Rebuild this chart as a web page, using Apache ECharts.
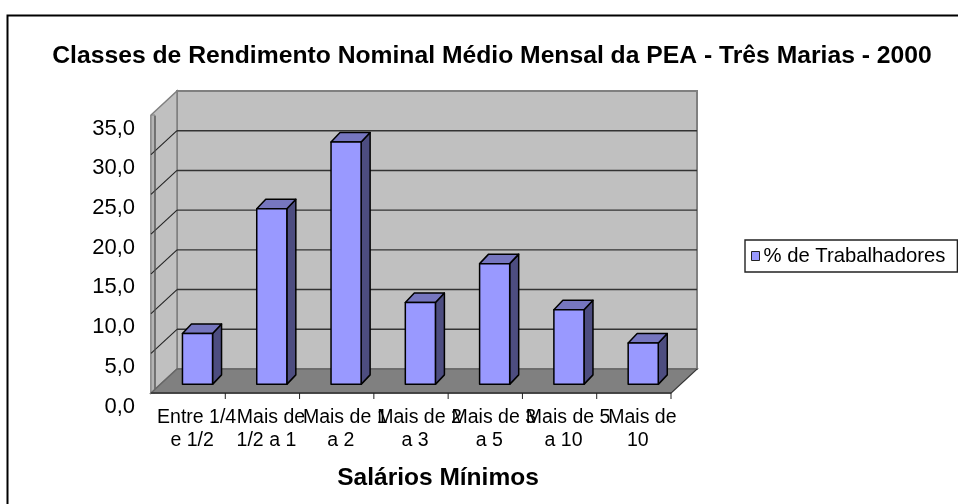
<!DOCTYPE html>
<html><head><meta charset="utf-8">
<style>html,body{margin:0;padding:0;background:#fff}#c{width:958px;height:504px}</style>
<script src="https://cdn.jsdelivr.net/npm/echarts@6/dist/echarts.min.js"></script>
</head><body><div id="c"></div>
<script>
const chartTitle = 'Classes de Rendimento Nominal Médio Mensal da PEA - Três Marias - 2000';
const xTitle = 'Salários Mínimos';
const seriesName = '% de Trabalhadores';
const categories = ['Entre 1/4\ne 1/2','Mais de\n1/2 a 1','Mais de 1\na 2','Mais de 2\na 3','Mais de 3\na 5','Mais de 5\na 10','Mais de\n10'];
const values = [6.4,22.1,30.5,10.3,15.2,9.4,5.2];
const yTicks = [0,5,10,15,20,25,30,35];

const DX = 26, DY = -24;           // oblique depth of the plot box
const F = "'Liberation Sans', Arial, sans-serif";
const poly = (points, style, z2) => ({type:'polygon', shape:{points}, style, z2: z2||0});
const seg = (a, b, stroke, lineWidth, z2) => ({type:'line', shape:{x1:a[0],y1:a[1],x2:b[0],y2:b[1]}, style:{stroke, lineWidth}, z2: z2||0});
const back = p => [p[0]+DX, p[1]+DY];

function renderBox(params, api){
  if (params.dataIndex !== 0) return null;
  const n = categories.length;
  const fl = api.coord([0,0]), bw = api.size([1,0])[0];
  const x0 = fl[0]-bw/2, x1 = x0+bw*n, y0 = fl[1];
  const yTop = api.coord([0,35])[1];
  const A=[x0,y0], B=[x1,y0], C=[x1,yTop], D=[x0,yTop];
  const kids = [];
  kids.push(poly([back(A),back(B),back(C),back(D)],{fill:'#c0c0c0',stroke:'#808080',lineWidth:2}));
  kids.push(poly([A,back(A),back(D),D],{fill:'#c0c0c0',stroke:'#808080',lineWidth:1.5},1));
  kids.push(poly([A,[x0+4,y0],[x0+4,yTop],D],{fill:'#b4b4b4',stroke:'#808080',lineWidth:1},2));
  kids.push(seg([x0+4,y0],[x0+4,yTop+1],'#555',1.2,3));
  kids.push(poly([A,B,back(B),back(A)],{fill:'#808080',stroke:'#666',lineWidth:1.5},3));
  yTicks.forEach(v=>{
    if (v===0 || v===35) return;
    const y = api.coord([0,v])[1];
    kids.push(seg(back([x0,y]),back([x1,y]),'#333',1.4,2));
    kids.push(seg([x0,y],back([x0,y]),'#222',1.1,2));
  });
  kids.push(seg(A,B,'#333',1.6,4));
  kids.push(seg(B,back(B),'#333',1,4));
  for(let i=1;i<=n;i++){
    kids.push(seg([x0+bw*i,y0],[x0+bw*i,y0+6],'#222',1,4));
  }
  return {type:'group',children:kids};
}

function renderBar(params, api){
  const i = api.value(0), v = api.value(1);
  const base = api.coord([i,0]), top = api.coord([i,v]);
  const bw = api.size([1,0])[0], w = bw*0.405;
  const sx = 0.36*DX, sy = 0.36*DY, dx = 9, dy = -9.5;
  const xl = base[0]-w/2+sx, xr = xl+w, yb = base[1]+sy, yt = top[1]+sy;
  const st = c => ({fill:c,stroke:'#000',lineWidth:1.5,lineJoin:'round'});
  return {type:'group',children:[
    poly([[xr,yb],[xr+dx,yb+dy],[xr+dx,yt+dy],[xr,yt]],st('#4d4d80')),
    poly([[xl,yt],[xr,yt],[xr+dx,yt+dy],[xl+dx,yt+dy]],st('#7676bf')),
    poly([[xl,yb],[xr,yb],[xr,yt],[xl,yt]],st('#9999ff'))
  ]};
}

const catStyle = {fontFamily:F,fontSize:19.5,lineHeight:23,color:'#000'};
const chart = echarts.init(document.getElementById('c'), null, {renderer:'canvas'});
chart.setOption({
  animation:false,
  backgroundColor:'#fff',
  textStyle:{fontFamily:F},
  title:[
    {text:chartTitle,left:487,top:39,textAlign:'center',
     textStyle:{fontFamily:F,fontSize:24.7,fontWeight:'bold',color:'#000'}},
    {text:xTitle,left:433,top:461,textAlign:'center',
     textStyle:{fontFamily:F,fontSize:24.5,fontWeight:'bold',color:'#000'}}
  ],
  legend:{show:true,left:745,top:240,itemWidth:8,itemHeight:9,itemGap:0,
    padding:[6,12,6,6],backgroundColor:'#fff',borderColor:'#222',borderWidth:1.4,
    data:[{name:seriesName,icon:'rect',itemStyle:{color:'#9999ff',borderColor:'#222',borderWidth:1}}],
    selectedMode:false,
    textStyle:{fontFamily:F,fontSize:20.3,color:'#000',padding:[0,0,0,-1]}},
  grid:{left:151,top:115,width:520,height:278,containLabel:false},
  xAxis:{type:'category',data:categories,
    axisLine:{show:false},axisTick:{show:false},splitLine:{show:false},
    axisLabel:{interval:0,margin:13,...catStyle,padding:[0,0,0,8],hideOverlap:false,
      formatter:s=>{const [a,b]=s.split('\n');return '{a|'+a+'}\n{b|'+b+'}';},
      rich:{a:{...catStyle,padding:[0,0,0,9]},b:{...catStyle}}}},
  yAxis:{type:'value',min:0,max:35,interval:5,
    axisLine:{show:false},axisTick:{show:false},splitLine:{show:false},
    axisLabel:{margin:16,fontSize:22,lineHeight:27,color:'#000',fontFamily:F,verticalAlign:'top',
      formatter:v=>v.toFixed(1).replace('.',',')}},
  graphic:[{type:'polyline',silent:true,z:-1,shape:{points:[[7.5,510],[7.5,15.5],[965,15.5]]},style:{stroke:'#000',lineWidth:2,fill:null}}],
  series:[
    {type:'custom',name:'box',coordinateSystem:'cartesian2d',renderItem:renderBox,data:[[0,0]],z:1,silent:true,clip:false,encode:{x:0,y:1}},
    {type:'custom',name:seriesName,coordinateSystem:'cartesian2d',renderItem:renderBar,
      data:values.map((v,i)=>[i,v]),z:2,silent:true,clip:false,encode:{x:0,y:1},
      itemStyle:{color:'#9999ff'}}
  ]
});
</script></body></html>
